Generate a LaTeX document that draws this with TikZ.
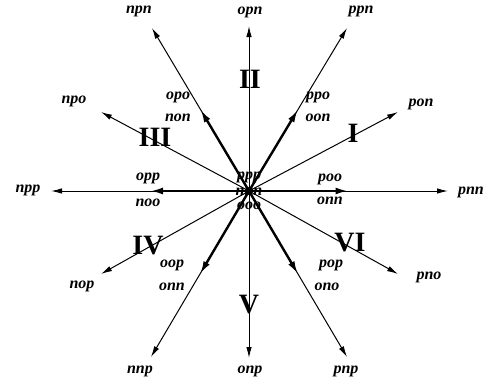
\documentclass[tikz,border=0pt]{standalone}
\usepackage{fontspec}
\setmainfont{Liberation Serif}
\usepackage{tikz}
\usetikzlibrary{arrows.meta,calc,positioning}

\tikzset{
  axis/.style={line width=1pt, -{Latex[length=11pt,width=5.5pt]}},
  half/.style={line width=2.4pt, -{Latex[length=13pt,width=7pt]}},
  lab/.style={font=\fontsize{16}{18}\selectfont\bfseries\itshape, inner sep=0pt},
  sector/.style={font=\fontsize{28}{30}\selectfont\bfseries, inner sep=0pt}
}

\begin{document}
\begin{tikzpicture}[x=1pt,y=-1pt]
            \useasboundingbox (0,0) rectangle (491,381);
            % Define points
            \coordinate (O) at (249, 191);
            \coordinate (opn) at (249, 26);
            \coordinate (onp) at (249, 358);
            \coordinate (pnn) at (448, 191);
            \coordinate (npp) at (51, 191);
            \coordinate (ppn) at (347, 28);
            \coordinate (npn) at (152, 28);
            \coordinate (pon) at (398, 112);
            \coordinate (npo) at (101, 112);
            \coordinate (nop) at (101, 274);
            \coordinate (pno) at (398, 274);
            \coordinate (nnp) at (151, 357);
            \coordinate (pnp) at (347, 357);
            % Long axes
            \foreach \e in {opn,onp,pnn,npp,ppn,npn,pon,npo,nop,pno,nnp,pnp}
              \draw[axis] (O) -- (\e);
            % Half axes
            \foreach \e in {ppn,npn,nnp,pnp,npp,pnn}
              \draw[half] (O) -- ($(O)!0.5!(\e)$);
            \fill (O) circle (4pt);
            % Label the ends
            \node[lab] (Lopn) at (250, 12) {opn};
            \node[lab] (Lonp) at (250, 371) {onp};
            \node[lab] (Lpnn) at (471, 192) {pnn};
            \node[lab] (Lnpp) at (28, 190) {npp};
            \node[lab] (Lppn) at (361, 11) {ppn};
            \node[lab] (Lnpn) at (139, 11) {npn};
            \node[lab] (Lpon) at (421, 104) {pon};
            \node[lab] (Lnpo) at (74, 101) {npo};
            \node[lab] (Lnop) at (82, 286) {nop};
            \node[lab] (Lpno) at (429, 277) {pno};
            \node[lab] (Lnnp) at (140, 371) {nnp};
            \node[lab] (Lpnp) at (346, 371) {pnp};
            % Label the half axes
            \node[lab] (Lppo) at (318, 97) {ppo};
            \node[lab] (Loon) at (318, 118) {oon};
            \node[lab] (Lopo) at (178, 97) {opo};
            \node[lab] (Lnon) at (178, 118) {non};
            \node[lab] (Lopp) at (148, 178) {opp};
            \node[lab] (Lnoo) at (148, 203) {noo};
            \node[lab] (Lpoo) at (330, 179) {poo};
            \node[lab] (Lonn) at (330, 201) {onn};
            \node[lab] (Loop) at (172, 265) {oop};
            \node[lab] (Lonnb) at (172, 287) {onn};
            \node[lab] (Lpop) at (331, 265) {pop};
            \node[lab] (Lono) at (327, 287) {ono};
            % Centre
            \node[lab] (Lppp) at (249, 177) {ppp};
            \node[lab] (Lnnn) at (249, 192) {nnn};
            \node[lab] (Looo) at (249, 206) {ooo};
            % Sectors
            \node[sector] (S1) at (353, 133) {I};
            \node[sector] (S2) at (250, 79) {II};
            \node[sector] (S3) at (155, 137) {III};
            \node[sector] (S4) at (148, 246) {IV};
            \node[sector] (S5) at (249, 305) {V};
            \node[sector] (S6) at (350, 243) {VI};
          \end{tikzpicture}
\end{document}
